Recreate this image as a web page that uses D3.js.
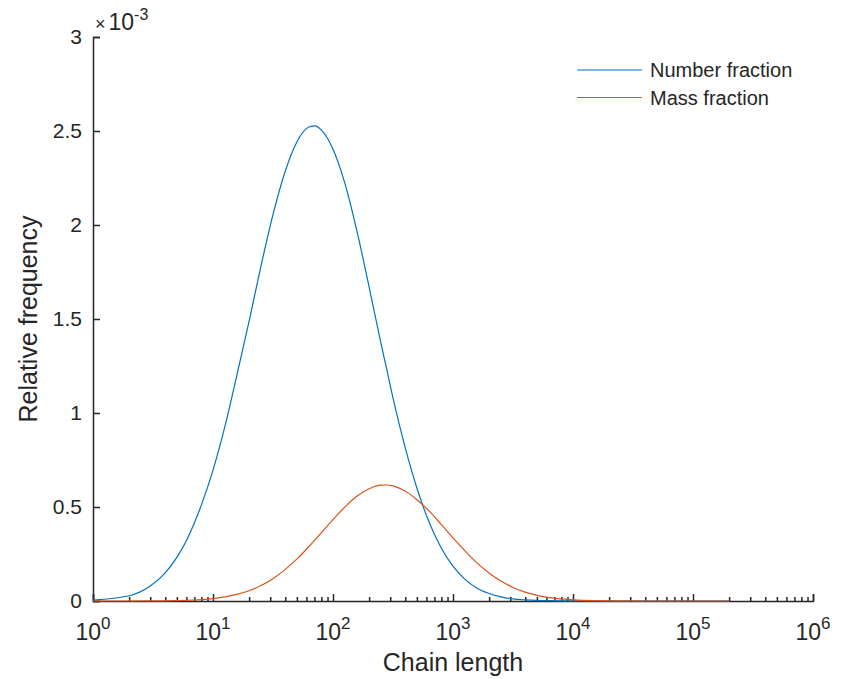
<!DOCTYPE html>
<html>
<head>
<meta charset="utf-8">
<script src="https://d3js.org/d3.v7.min.js"></script>
<style>
  body { margin: 0; background: #fff; }
  text { font-family: Arial, "Liberation Sans", Helvetica, sans-serif; fill: #262626; }
</style>
</head>
<body>
<div id="chart"></div>
<script>
const chainLength = [1, 2, 3, 4, 5, 6, 7, 8,
    10, 12.6, 15.8, 20, 25.1, 31.6, 39.8, 50.1, 63.1, 70.8, 79.4,
    100, 126, 158, 200, 251, 282, 316, 398, 501, 631, 794,
    1000, 1259, 1585, 1995, 2512, 3162, 3981, 5012, 6310, 7943,
    10000, 15849, 25119, 39811, 100000, 200000];

// Relative frequency, in units of 1e-3
const numberFraction = [0.005, 0.028, 0.080, 0.150, 0.232, 0.320, 0.416, 0.510,
    0.696, 0.931, 1.200, 1.489, 1.781, 2.055, 2.282, 2.443, 2.521, 2.527, 2.507,
    2.403, 2.219, 1.970, 1.670, 1.370, 1.225, 1.080, 0.820, 0.600, 0.420, 0.285,
    0.185, 0.115, 0.068, 0.040, 0.022, 0.011, 0.006, 0.003, 0.0015, 0.0008,
    0.0004, 0.0001, 0, 0, 0, 0];

const massFraction = [0, 0.0001, 0.0005, 0.0011, 0.0021, 0.0035, 0.0053, 0.0075,
    0.0128, 0.0216, 0.035, 0.0547, 0.0824, 0.119, 0.167, 0.224, 0.290, 0.325, 0.361,
    0.433, 0.501, 0.557, 0.597, 0.616, 0.617, 0.612, 0.585, 0.539, 0.479, 0.409,
    0.336, 0.267, 0.203, 0.149, 0.106, 0.072, 0.047, 0.030, 0.018, 0.011,
    0.006, 0.0017, 0.0004, 0.0001, 0, 0];

const seriesNames = ["Number fraction", "Mass fraction"];
const seriesColors = ["#0072BD", "#D95319"];

const yTicks = [0, 0.5, 1, 1.5, 2, 2.5, 3];
const xDecades = [0, 1, 2, 3, 4, 5, 6];

// Dimensions
const margin = { top: 37, right: 33, bottom: 78, left: 93 };
const width = 846 - margin.left - margin.right;
const height = 679 - margin.top - margin.bottom;

const svg = d3.select("#chart")
    .append("svg")
    .attr("width", width + margin.left + margin.right)
    .attr("height", height + margin.top + margin.bottom)
    .append("g")
    .attr("transform", `translate(${margin.left},${margin.top})`);

// Scales
const x = d3.scaleLog()
    .domain([1, 1e6])
    .range([0, width]);

const y = d3.scaleLinear()
    .domain([0, 3])
    .range([height, 0]);

// Minor x ticks
const minorTicks = [];
xDecades.slice(0, -1).forEach(p => {
    for (let k = 2; k <= 9; k++) minorTicks.push(k * Math.pow(10, p));
});

svg.append("g")
    .attr("class", "x-minor")
    .attr("transform", `translate(0,${height})`)
    .call(d3.axisBottom(x).tickValues(minorTicks).tickSize(-4).tickFormat(""))
    .call(g => g.select(".domain").remove())
    .selectAll("line").attr("stroke", "#262626").attr("stroke-width", 1.5);

// Major x axis
const xAxis = svg.append("g")
    .attr("transform", `translate(0,${height})`)
    .call(d3.axisBottom(x)
        .tickValues(xDecades.map(p => Math.pow(10, p)))
        .tickSize(-7)
        .tickFormat(""));
xAxis.select(".domain").attr("stroke", "#262626").attr("stroke-width", 1.5);
xAxis.selectAll("line").attr("stroke", "#262626").attr("stroke-width", 1.5);

// x tick labels with superscripts
xDecades.forEach(p => {
    const t = svg.append("text")
        .attr("x", x(Math.pow(10, p)))
        .attr("y", height + 39)
        .style("text-anchor", "middle");
    t.append("tspan").style("font-size", "23px").text("10");
    t.append("tspan").style("font-size", "17px").attr("dy", -11).text(p);
});

// y axis
const yAxis = svg.append("g")
    .call(d3.axisLeft(y)
        .tickValues(yTicks)
        .tickSize(-7)
        .tickPadding(11)
        .tickFormat(d3.format("")));
yAxis.select(".domain").attr("stroke", "#262626").attr("stroke-width", 1.5);
yAxis.selectAll("line").attr("stroke", "#262626").attr("stroke-width", 1.5);
yAxis.selectAll("text")
    .style("font-size", "21px")
    .style("font-family", "Arial, 'Liberation Sans', sans-serif")
    .attr("fill", "#262626");

// exponent multiplier
const mult = svg.append("text")
    .attr("x", 2)
    .attr("y", -7);
mult.append("tspan").style("font-size", "18px").text("\u00d7");
mult.append("tspan").style("font-size", "23px").attr("dx", 3).text("10");
mult.append("tspan").style("font-size", "16px").attr("dy", -10).text("-3");

// Axis labels
svg.append("text")
    .attr("x", width / 2)
    .attr("y", height + 70)
    .style("text-anchor", "middle")
    .style("font-size", "25px")
    .text("Chain length");

svg.append("text")
    .attr("transform", "rotate(-90)")
    .attr("x", -height / 2)
    .attr("y", -56)
    .style("text-anchor", "middle")
    .style("font-size", "25px")
    .text("Relative frequency");

// Lines
const series = [numberFraction, massFraction];
const line = d3.line()
    .x(d => x(d[0]))
    .y(d => y(d[1]))
    .curve(d3.curveMonotoneX);

series.forEach((values, i) => {
    svg.append("path")
        .datum(chainLength.map((c, j) => [c, values[j]]))
        .attr("fill", "none")
        .attr("stroke", seriesColors[i])
        .attr("stroke-width", 1.2)
        .attr("d", line);
});

// Legend
const legend = svg.append("g")
    .attr("transform", `translate(${width - 236}, 33)`);

seriesNames.forEach((name, i) => {
    const row = legend.append("g")
        .attr("transform", `translate(0, ${i * 27.5})`);
    row.append("line")
        .attr("x1", 0)
        .attr("x2", 65)
        .attr("stroke", seriesColors[i])
        .attr("stroke-width", 1.2);
    row.append("text")
        .attr("x", 73)
        .attr("dy", "0.35em")
        .style("font-size", "20px")
        .text(name);
});
</script>
</body>
</html>
